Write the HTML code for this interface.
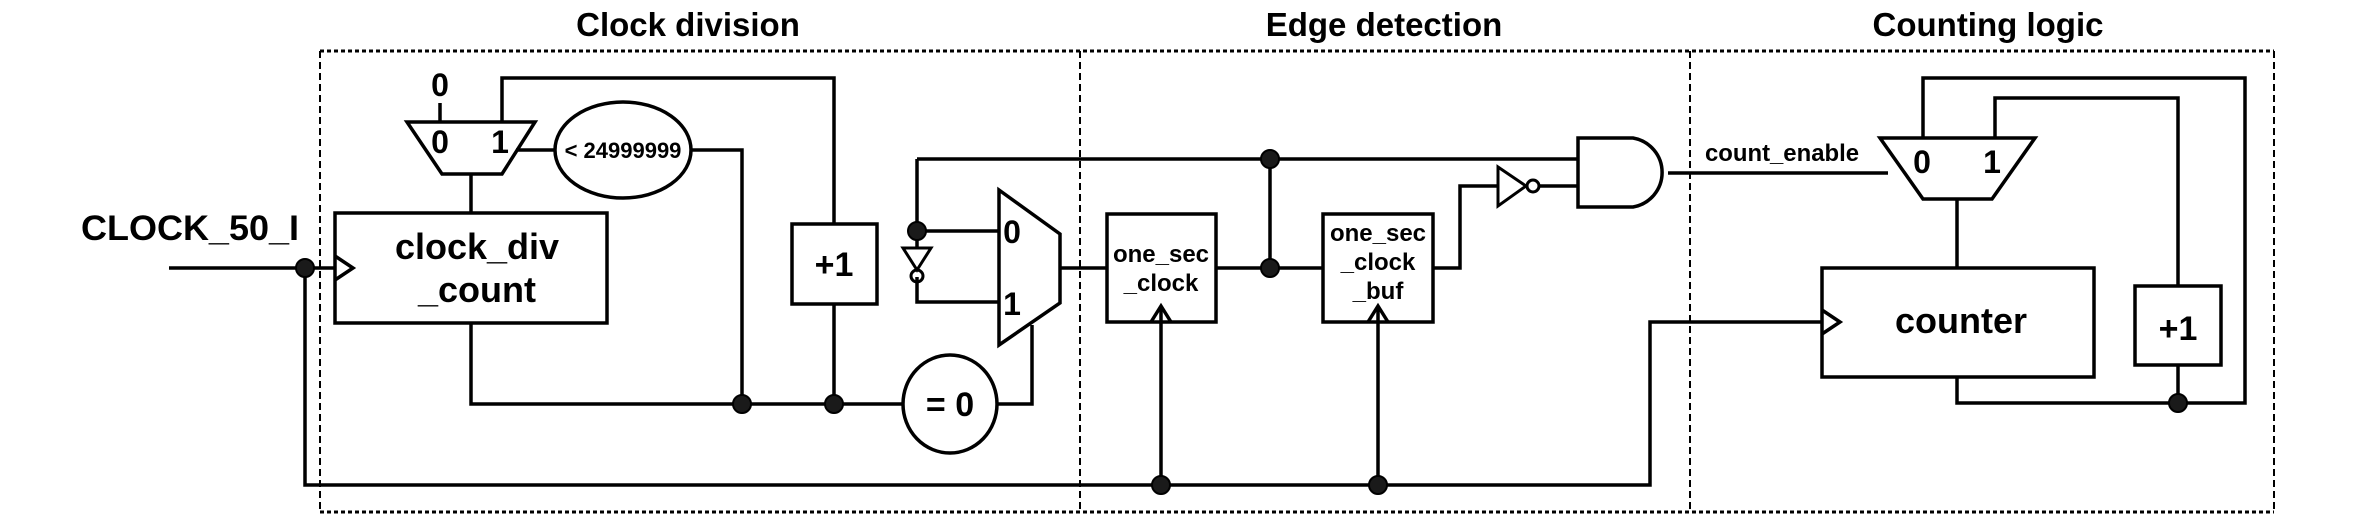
<!DOCTYPE html>
<html><head><meta charset="utf-8"><style>
html,body{margin:0;padding:0;background:#fff;}
svg{display:block;}
text{font-family:"Liberation Sans",Arial,sans-serif;font-weight:bold;fill:#000;}
</style></head><body>
<svg width="2376" height="528" viewBox="0 0 2376 528" xmlns="http://www.w3.org/2000/svg">
<g fill="none" stroke="#000">
<!-- dashed region boxes -->
<g stroke-width="3" stroke-dasharray="4 3">
<line x1="320" y1="51" x2="2274" y2="51"/>
<line x1="320" y1="512" x2="2274" y2="512"/>
</g>
<g stroke-width="2" stroke-dasharray="7 4">
<line x1="320" y1="51" x2="320" y2="512"/>
<line x1="1080" y1="51" x2="1080" y2="512"/>
<line x1="1690" y1="51" x2="1690" y2="512"/>
<line x1="2274" y1="51" x2="2274" y2="512"/>
</g>

<g stroke-width="3.5">
<!-- input -->
<line x1="169" y1="268" x2="335" y2="268"/>
<polyline points="305,268 305,485 1650,485 1650,322 1822,322"/>
<!-- clock_div_count box -->
<rect x="335" y="213" width="272" height="110"/>
<polyline points="335,256 353,268 335,280"/>
<!-- top mux -->
<polygon points="407,122 535,122 502,174 442,174"/>
<line x1="471" y1="174" x2="471" y2="213"/>
<line x1="440" y1="103" x2="440" y2="122"/>
<polyline points="502,122 502,78 834,78 834,224"/>
<rect x="792" y="224" width="85" height="80"/>
<line x1="834" y1="304" x2="834" y2="404"/>
<ellipse cx="623" cy="150" rx="68" ry="48"/>
<line x1="516" y1="150" x2="555" y2="150"/>
<polyline points="691,150 742,150 742,404"/>
<polyline points="471,323 471,404 903,404"/>
<ellipse cx="950" cy="404" rx="47" ry="49"/>
<polyline points="997,404 1032,404 1032,325"/>
<!-- big mux -->
<polygon points="999,190 1060,234 1060,303 999,345"/>
<line x1="1060" y1="268" x2="1107" y2="268"/>
<line x1="917" y1="231" x2="999" y2="231"/>
<polyline points="917,277 917,302 999,302"/>
<line x1="917" y1="231" x2="917" y2="248"/>
<polyline points="917,159 917,231"/>
<line x1="917" y1="159" x2="1578" y2="159"/>
<!-- edge detection -->
<rect x="1107" y="214" width="109" height="108"/>
<rect x="1323" y="214" width="110" height="108"/>
<polyline points="1151,322 1161,306 1171,322"/>
<polyline points="1368,322 1378,306 1388,322"/>
<line x1="1161" y1="306" x2="1161" y2="485"/>
<line x1="1378" y1="306" x2="1378" y2="485"/>
<line x1="1216" y1="268" x2="1323" y2="268"/>
<line x1="1270" y1="159" x2="1270" y2="268"/>
<polyline points="1433,268 1460,268 1460,186 1498,186"/>
<line x1="1539" y1="186" x2="1578" y2="186"/>
<path d="M1578,138 L1633,138 A35,35 0 0 1 1633,207 L1578,207 Z"/>
<line x1="1668" y1="173" x2="1888" y2="173"/>
<!-- counting -->
<polygon points="1880,138 2035,138 1992,199 1923,199"/>
<line x1="1957" y1="199" x2="1957" y2="268"/>
<polyline points="1923,138 1923,78 2245,78 2245,403 1957,403 1957,377"/>
<polyline points="1995,138 1995,98 2178,98 2178,286"/>
<rect x="1822" y="268" width="272" height="109"/>
<polyline points="1822,310 1840,322 1822,334"/>
<rect x="2135" y="286" width="86" height="79"/>
<line x1="2178" y1="365" x2="2178" y2="403"/>
</g>
<g stroke-width="3">
<polygon points="903,248 931,248 917,270"/>
<circle cx="917" cy="276" r="6"/>
<polygon points="1498,167 1526,186 1498,206"/>
<circle cx="1533" cy="186" r="6"/>
</g>
</g>
<!-- dots -->
<g fill="#1a1a1a" stroke="#000" stroke-width="2">
<circle cx="305" cy="268" r="9"/>
<circle cx="742" cy="404" r="9"/>
<circle cx="834" cy="404" r="9"/>
<circle cx="917" cy="231" r="9"/>
<circle cx="1270" cy="159" r="9"/>
<circle cx="1270" cy="268" r="9"/>
<circle cx="1161" cy="485" r="9"/>
<circle cx="1378" cy="485" r="9"/>
<circle cx="2178" cy="403" r="9"/>
</g>
<!-- text -->
<text x="688" y="36" font-size="33" text-anchor="middle">Clock division</text>
<text x="1384" y="36" font-size="33" text-anchor="middle">Edge detection</text>
<text x="1988" y="36" font-size="33" text-anchor="middle">Counting logic</text>
<text x="81" y="240" font-size="35" textLength="218" lengthAdjust="spacingAndGlyphs">CLOCK_50_I</text>
<text x="477" y="259" font-size="36" text-anchor="middle">clock_div</text>
<text x="477" y="302" font-size="36" text-anchor="middle">_count</text>
<text x="440" y="96" font-size="32" text-anchor="middle">0</text>
<text x="440" y="153" font-size="32" text-anchor="middle">0</text>
<text x="500" y="153" font-size="32" text-anchor="middle">1</text>
<text x="623" y="158" font-size="22" text-anchor="middle">&lt; 24999999</text>
<text x="834" y="276" font-size="34" text-anchor="middle">+1</text>
<text x="950" y="416" font-size="34" text-anchor="middle">= 0</text>
<text x="1012" y="243" font-size="32" text-anchor="middle">0</text>
<text x="1012" y="315" font-size="32" text-anchor="middle">1</text>
<text x="1161" y="262" font-size="24" text-anchor="middle">one_sec</text>
<text x="1161" y="291" font-size="24" text-anchor="middle">_clock</text>
<text x="1378" y="241" font-size="24" text-anchor="middle">one_sec</text>
<text x="1378" y="270" font-size="24" text-anchor="middle">_clock</text>
<text x="1378" y="299" font-size="24" text-anchor="middle">_buf</text>
<text x="1705" y="161" font-size="24" textLength="154" lengthAdjust="spacingAndGlyphs">count_enable</text>
<text x="1922" y="173" font-size="32" text-anchor="middle">0</text>
<text x="1992" y="173" font-size="32" text-anchor="middle">1</text>
<text x="1961" y="333" font-size="36" text-anchor="middle">counter</text>
<text x="2178" y="340" font-size="34" text-anchor="middle">+1</text>
</svg>
</body></html>
